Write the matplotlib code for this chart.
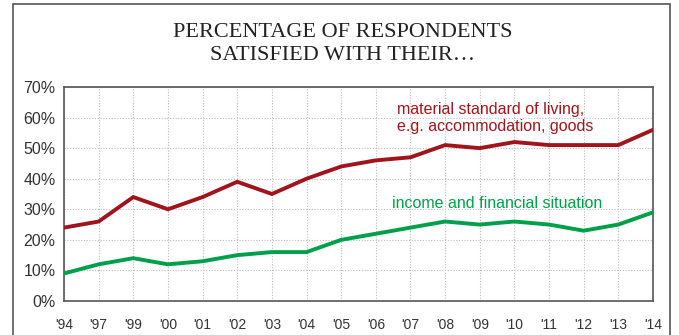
import matplotlib
matplotlib.use("Agg")
import matplotlib.pyplot as plt
from matplotlib.patches import Rectangle
from matplotlib.ticker import FuncFormatter, MultipleLocator

years = ["'94", "'97", "'99", "'00", "'01", "'02", "'03", "'04", "'05", "'06",
         "'07", "'08", "'09", "'10", "'11", "'12", "'13", "'14"]
material_standard = [24, 26, 34, 30, 34, 39, 35, 40, 44, 46, 47, 51, 50, 52, 51, 51, 51, 56]
income_financial = [9, 12, 14, 12, 13, 15, 16, 16, 20, 22, 24, 26, 25, 26, 25, 23, 25, 29]

RED = "#A0151C"
GREEN = "#00A04B"
W, H = 679, 335

fig = plt.figure(figsize=(W / 100, H / 100), dpi=100)
fig.patch.set_facecolor("white")

# outer box around the whole chart
fig.add_artist(Rectangle((13 / W, -0.05), (670 - 13) / W, 1.05 - 3.5 / H,
                         transform=fig.transFigure, fill=False,
                         edgecolor="#555555", linewidth=1.2))

fig.text(342.5 / W, 1 - 37 / H, "PERCENTAGE OF RESPONDENTS",
         ha="center", va="baseline", fontsize=16, family="Liberation Serif", color="#222222")
fig.text(342.5 / W, 1 - 60 / H, "SATISFIED WITH THEIR…",
         ha="center", va="baseline", fontsize=16, family="Liberation Serif", color="#222222")

left, right, top, bottom = 64, 653, 87, 301
ax = fig.add_axes([left / W, 1 - bottom / H, (right - left) / W, (bottom - top) / H])

x = list(range(len(years)))
ax.plot(x, material_standard, color=RED, linewidth=2.8, solid_joinstyle="miter", zorder=3)
ax.plot(x, income_financial, color=GREEN, linewidth=2.8, solid_joinstyle="miter", zorder=3)

ax.set_xlim(0, len(years) - 1)
ax.set_ylim(0, 70)
ax.yaxis.set_major_locator(MultipleLocator(10))
ax.yaxis.set_major_formatter(FuncFormatter(lambda v, p: f"{v:.0f}%"))
ax.set_xticks(x)
ax.set_xticklabels(years)

ax.grid(True, color="#bbbbbb", linestyle=(0, (1, 1.5)), linewidth=0.8)
ax.set_axisbelow(True)
for s in ax.spines.values():
    s.set_color("#555555")
    s.set_linewidth(1.2)

ax.tick_params(axis="both", length=0, colors="#333333")
ax.tick_params(axis="y", labelsize=11.5, pad=6)
ax.tick_params(axis="x", labelsize=10, pad=12)
for lab in ax.get_xticklabels() + ax.get_yticklabels():
    lab.set_family("Liberation Sans")

lx = 9.6
ax.text(lx, 61.2, "material standard of living,", color=RED, fontsize=11.5,
        family="Liberation Sans", va="baseline", ha="left")
ax.text(lx, 55.6, "e.g. accommodation, goods", color=RED, fontsize=11.5,
        family="Liberation Sans", va="baseline", ha="left")
ax.text(9.48, 30.4, "income and financial situation", color=GREEN, fontsize=11.5,
        family="Liberation Sans", va="baseline", ha="left")

fig.savefig("out.png", dpi=100, facecolor="white")
